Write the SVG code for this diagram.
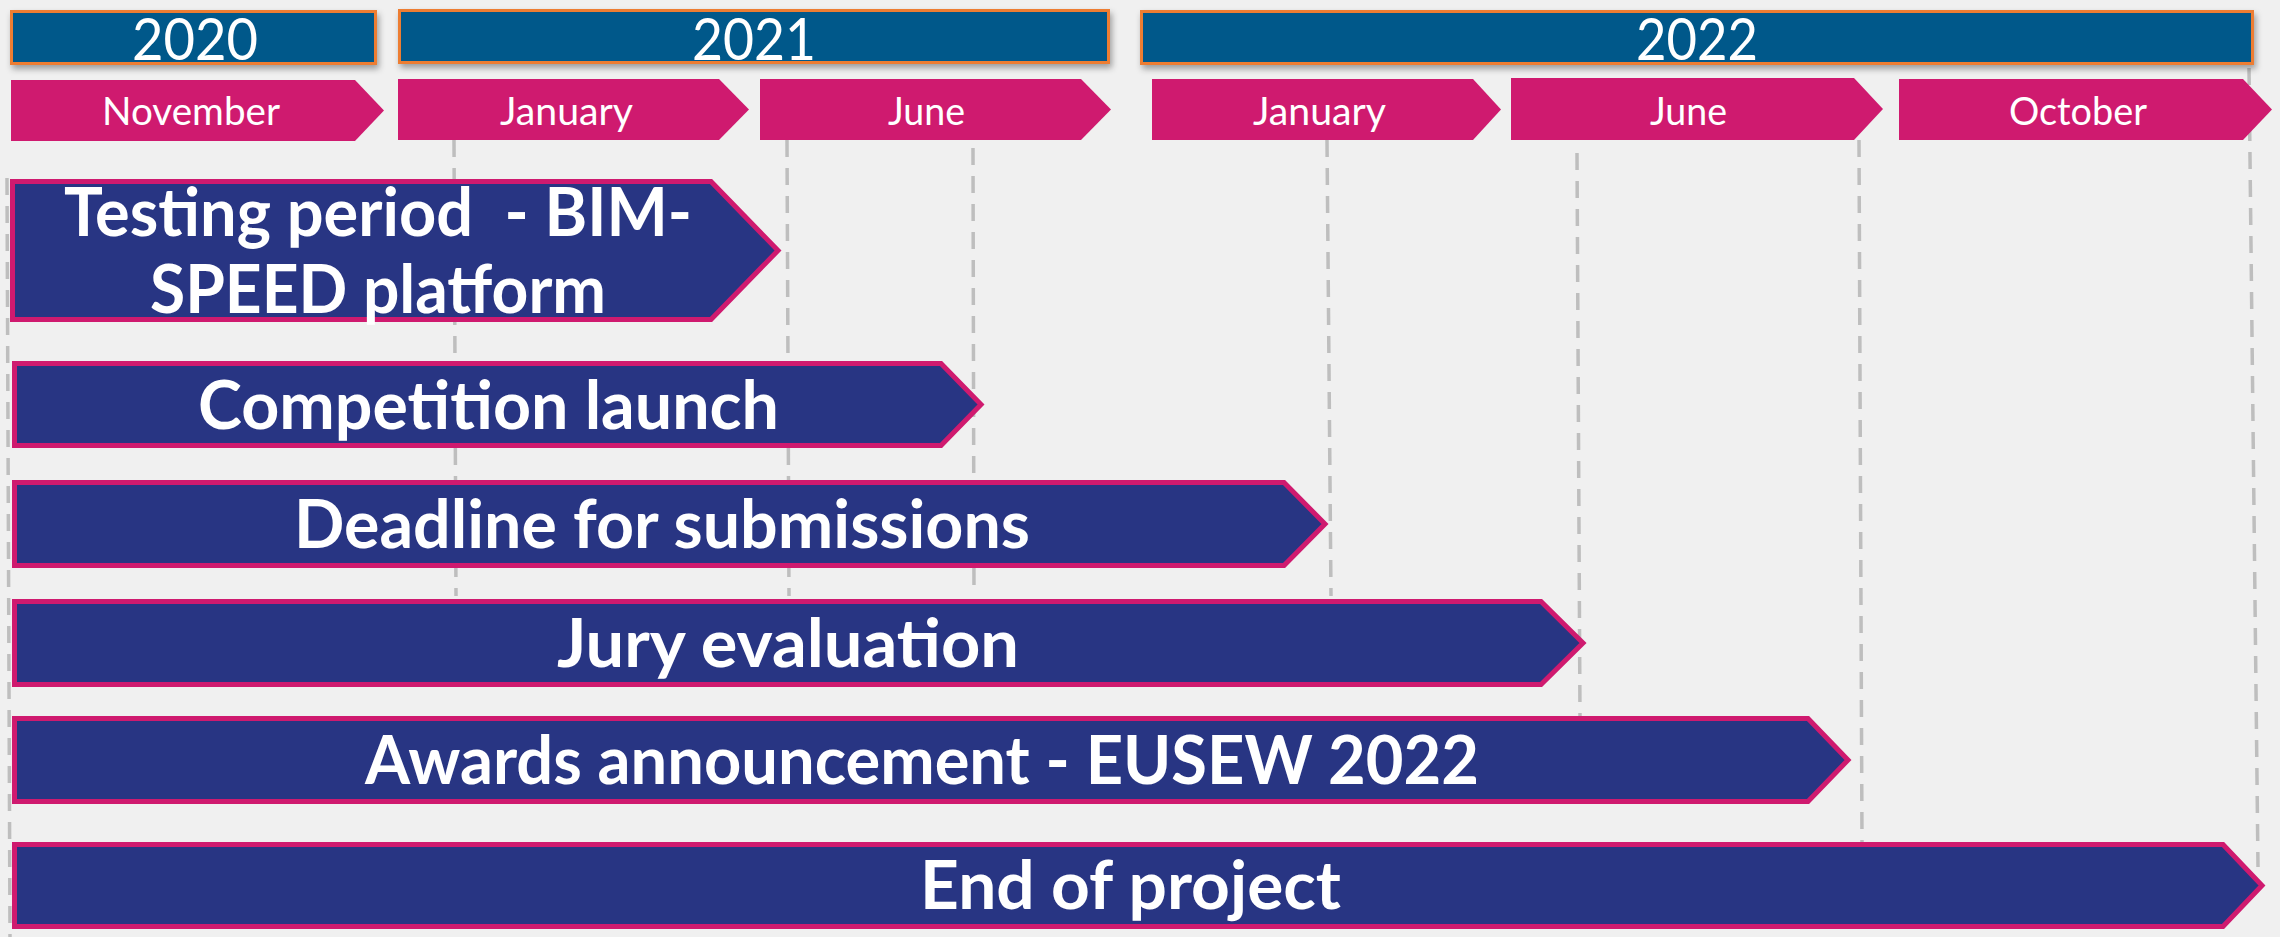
<svg xmlns="http://www.w3.org/2000/svg" width="2280" height="937" viewBox="0 0 2280 937">
<defs>
<filter id="sh" x="-5%" y="-20%" width="110%" height="160%">
<feDropShadow dx="2" dy="4" stdDeviation="3" flood-color="#000" flood-opacity="0.35"/>
</filter>
<style>
.year{fill:#02598A;stroke:#ED7D31;stroke-width:3;filter:url(#sh)}
.ytxt{font-family:Lato,"Liberation Sans",sans-serif;font-size:58px;fill:#fff}
.month{fill:#CF1A6F}
.mtxt{font-family:Lato,"Liberation Sans",sans-serif;font-size:38px;fill:#fff}
.grid{stroke:#BEBEBE;stroke-width:3.5;stroke-dasharray:17 11;fill:none}
.bar{fill:#283583;stroke:#CF1A6F;stroke-width:5;stroke-linejoin:miter}
.btxt{font-family:Lato,"Open Sans","Liberation Sans",sans-serif;font-weight:bold;font-size:66px;fill:#fff}
</style>
</defs>
<rect width="2280" height="937" fill="#F0F0F0"/>

<g id="gridlines">
<line class="grid" x1="7" y1="178" x2="10" y2="937"/>
<line class="grid" x1="454" y1="140" x2="456" y2="596"/>
<line class="grid" x1="787" y1="140" x2="789" y2="596"/>
<line class="grid" x1="973" y1="148" x2="974" y2="596"/>
<line class="grid" x1="1327" y1="140" x2="1331" y2="596"/>
<line class="grid" x1="1577" y1="153" x2="1580" y2="717"/>
<line class="grid" x1="1859" y1="140" x2="1862" y2="842"/>
<line class="grid" x1="2249" y1="68" x2="2258" y2="867"/>
</g>

<g id="year-2020"><rect class="year" x="11.5" y="11.5" width="364" height="52"/><text class="ytxt" x="132" y="60" textLength="126" lengthAdjust="spacingAndGlyphs">2020</text></g>
<g id="year-2021"><rect class="year" x="399.5" y="10.5" width="709" height="52"/><text class="ytxt" x="692" y="60" textLength="124" lengthAdjust="spacingAndGlyphs">2021</text></g>
<g id="year-2022"><rect class="year" x="1141.5" y="11.5" width="1111" height="52"/><text class="ytxt" x="1636" y="60" textLength="122" lengthAdjust="spacingAndGlyphs">2022</text></g>

<g id="month-nov-2020"><path class="month" d="M11 80 H355 L384 110.5 L355 141 H11 Z"/><text class="mtxt" x="102" y="125" textLength="178" lengthAdjust="spacingAndGlyphs">November</text></g>
<g id="month-jan-2021"><path class="month" d="M398 79 H719 L749 109.5 L719 140 H398 Z"/><text class="mtxt" x="500" y="125" textLength="133" lengthAdjust="spacingAndGlyphs">January</text></g>
<g id="month-jun-2021"><path class="month" d="M760 79 H1081 L1111 109.5 L1081 140 H760 Z"/><text class="mtxt" x="888" y="125" textLength="77" lengthAdjust="spacingAndGlyphs">June</text></g>
<g id="month-jan-2022"><path class="month" d="M1152 79 H1473 L1501 109.5 L1473 140 H1152 Z"/><text class="mtxt" x="1253" y="125" textLength="133" lengthAdjust="spacingAndGlyphs">January</text></g>
<g id="month-jun-2022"><path class="month" d="M1511 78 H1854 L1883 109 L1854 140 H1511 Z"/><text class="mtxt" x="1650" y="125" textLength="77" lengthAdjust="spacingAndGlyphs">June</text></g>
<g id="month-oct-2022"><path class="month" d="M1899 79 H2243 L2272 109.5 L2243 140 H1899 Z"/><text class="mtxt" x="2009" y="125" textLength="138" lengthAdjust="spacingAndGlyphs">October</text></g>

<g id="bar-testing"><path class="bar" d="M12.5 181.5 H711 L778 250.5 L711 319.5 H12.5 Z"/>
<text class="btxt" x="64" y="236" textLength="628" lengthAdjust="spacingAndGlyphs" xml:space="preserve">Testing period  - BIM-</text>
<text class="btxt" x="150" y="313" textLength="456" lengthAdjust="spacingAndGlyphs">SPEED platform</text></g>
<g id="bar-competition"><path class="bar" d="M14.5 363.5 H941 L981 404.5 L941 445.5 H14.5 Z"/><text class="btxt" x="198" y="429" textLength="581" lengthAdjust="spacingAndGlyphs">Competition launch</text></g>
<g id="bar-deadline"><path class="bar" d="M14.5 482.5 H1284 L1325 524 L1284 565.5 H14.5 Z"/><text class="btxt" x="294" y="548" textLength="736" lengthAdjust="spacingAndGlyphs">Deadline for submissions</text></g>
<g id="bar-jury"><path class="bar" d="M14.5 601.5 H1541 L1583 643 L1541 684.5 H14.5 Z"/><text class="btxt" x="557" y="667" textLength="462" lengthAdjust="spacingAndGlyphs">Jury evaluation</text></g>
<g id="bar-awards"><path class="bar" d="M14.5 718.5 H1808 L1848 760 L1808 801.5 H14.5 Z"/><text class="btxt" x="365" y="784" textLength="1114" lengthAdjust="spacingAndGlyphs">Awards announcement - EUSEW 2022</text></g>
<g id="bar-end"><path class="bar" d="M14.5 844.5 H2223 L2262 885.5 L2223 926.5 H14.5 Z"/><text class="btxt" x="920" y="909" textLength="421" lengthAdjust="spacingAndGlyphs">End of project</text></g>
</svg>
